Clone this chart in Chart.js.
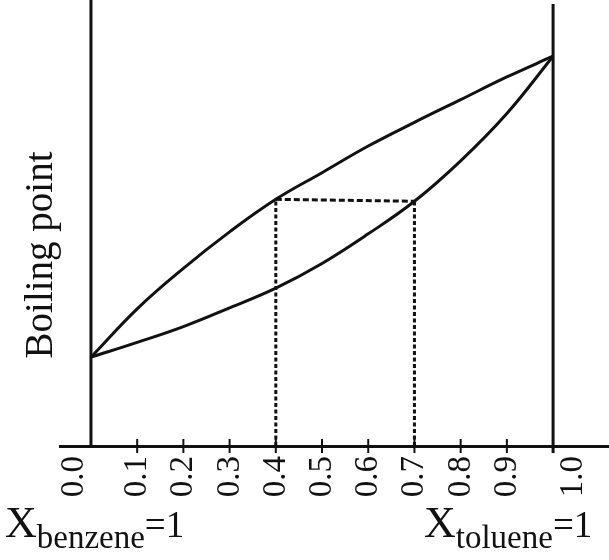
<!DOCTYPE html>
<html lang="en">
<head>
  <meta charset="UTF-8">
  <title>Boiling Point Diagram</title>
  <script src="https://cdn.jsdelivr.net/npm/chart.js"></script>
  <style>
    html, body {
      margin: 0;
      padding: 0;
      background-color: #ffffff;
    }
  </style>
</head>
<body>
  <canvas id="bpChart" width="609" height="560"></canvas>

  <script>
    // mole fraction of toluene, and tick labels
    const molFrac = [0.0, 0.1, 0.2, 0.3, 0.4, 0.5, 0.6, 0.7, 0.8, 0.9, 1.0];
    const tickLabels = ['0.0', '0.1', '0.2', '0.3', '0.4', '0.5', '0.6', '0.7', '0.8', '0.9', '1.0'];

    // boiling point curves (upper = vapour, lower = liquid)
    const vaporCurve = [80.1, 85.0, 89.1, 92.8, 96.1, 98.8, 101.5, 103.9, 106.2, 108.5, 110.6];
    const liquidCurve = [80.1, 81.6, 83.2, 85.1, 87.1, 89.6, 92.6, 95.9, 100.0, 104.8, 110.6];

    // tie line between the two curves
    const tieX = [0.4, 0.7];
    const tieY = [96.1, 95.9];

    // pure components (side lines)
    const boundX = [0, 1];

    const Y_MIN = 71.1, Y_MAX = 116.3;
    const INK = '#111111';
    const SERIF = '"Liberation Serif", "DejaVu Serif", serif';

    const pts = (xs, ys) => xs.map((x, i) => ({ x: x, y: ys[i] }));

    // text drawn on top: rotated tick labels, y title, bottom captions
    const textPlugin = {
      id: 'textPlugin',
      afterDraw(chart) {
        const ctx = chart.ctx;
        const xs = chart.scales.x;
        ctx.save();
        ctx.fillStyle = INK;

        // tick labels, reading bottom to top
        ctx.font = '33px ' + SERIF;
        ctx.textAlign = 'right';
        ctx.textBaseline = 'alphabetic';
        tickLabels.forEach((t, i) => {
          let shift = 9;
          if (i === 0) shift = -8;
          if (i === tickLabels.length - 1) shift = 29;
          const px = xs.getPixelForValue(molFrac[i]) + shift;
          ctx.save();
          ctx.translate(px, 456);
          ctx.rotate(-Math.PI / 2);
          ctx.fillText(t, 0, 0);
          ctx.restore();
        });

        // y axis title
        ctx.font = '39px ' + SERIF;
        ctx.textAlign = 'center';
        ctx.save();
        ctx.translate(52, 255);
        ctx.rotate(-Math.PI / 2);
        ctx.fillText('Boiling point', 0, 0);
        ctx.restore();

        // X_sub=1 captions
        ctx.textAlign = 'left';
        const caption = (x, sub) => {
          ctx.font = '44px ' + SERIF;
          ctx.fillText('X', x, 537);
          x += ctx.measureText('X').width;
          ctx.font = '33px ' + SERIF;
          ctx.fillText(sub, x, 548);
          x += ctx.measureText(sub).width;
          ctx.font = '37px ' + SERIF;
          ctx.fillText('=1', x, 537);
        };
        caption(5, 'benzene');
        caption(424, 'toluene');

        ctx.restore();
      }
    };

    new Chart(document.getElementById('bpChart'), {
      type: 'line',
      data: {
        datasets: [
          {
            label: 'Vapour',
            data: pts(molFrac, vaporCurve),
            borderColor: INK,
            borderWidth: 3,
            tension: 0.4,
            pointRadius: 0
          },
          {
            label: 'Liquid',
            data: pts(molFrac, liquidCurve),
            borderColor: INK,
            borderWidth: 3,
            tension: 0.4,
            pointRadius: 0
          },
          {
            label: 'Tie line',
            data: pts(tieX, tieY),
            borderColor: INK,
            borderWidth: 3,
            borderDash: [6, 3],
            pointRadius: 0
          },
          {
            label: 'Drop 1',
            data: [{ x: tieX[0], y: Y_MIN }, { x: tieX[0], y: tieY[0] }],
            borderColor: INK,
            borderWidth: 3,
            borderDash: [4, 2.5],
            pointRadius: 0
          },
          {
            label: 'Drop 2',
            data: [{ x: tieX[1], y: Y_MIN }, { x: tieX[1], y: tieY[1] }],
            borderColor: INK,
            borderWidth: 3,
            borderDash: [4, 2.5],
            pointRadius: 0
          },
          {
            label: 'Benzene side',
            data: [{ x: boundX[0], y: Y_MIN - 0.2 }, { x: boundX[0], y: Y_MAX }],
            borderColor: INK,
            borderWidth: 3,
            pointRadius: 0,
            clip: false
          },
          {
            label: 'Toluene side',
            data: [{ x: boundX[1], y: Y_MIN - 0.7 }, { x: boundX[1], y: Y_MAX - 0.4 }],
            borderColor: INK,
            borderWidth: 3,
            pointRadius: 0,
            clip: false
          },
          {
            label: 'Ticks',
            data: molFrac.slice(1, -1).map(x => ({ x: x, y: Y_MIN })),
            showLine: false,
            pointStyle: 'line',
            rotation: 90,
            pointRadius: 7,
            borderColor: INK,
            borderWidth: 2,
            clip: false
          }
        ]
      },
      options: {
        responsive: false,
        animation: false,
        layout: { autoPadding: false, padding: { left: 60, right: 0, top: 0, bottom: 0 } },
        plugins: {
          legend: { display: false },
          tooltip: { enabled: false }
        },
        scales: {
          x: {
            type: 'linear',
            min: -0.067,
            max: 1.121,
            afterBuildTicks: s => { s.ticks = molFrac.map(v => ({ value: v })); },
            afterFit: s => { s.height = 114; },
            ticks: { display: false },
            grid: { display: false },
            border: { display: true, color: INK, width: 3 }
          },
          y: {
            display: false,
            min: Y_MIN,
            max: Y_MAX
          }
        }
      },
      plugins: [textPlugin]
    });
  </script>
</body>
</html>
